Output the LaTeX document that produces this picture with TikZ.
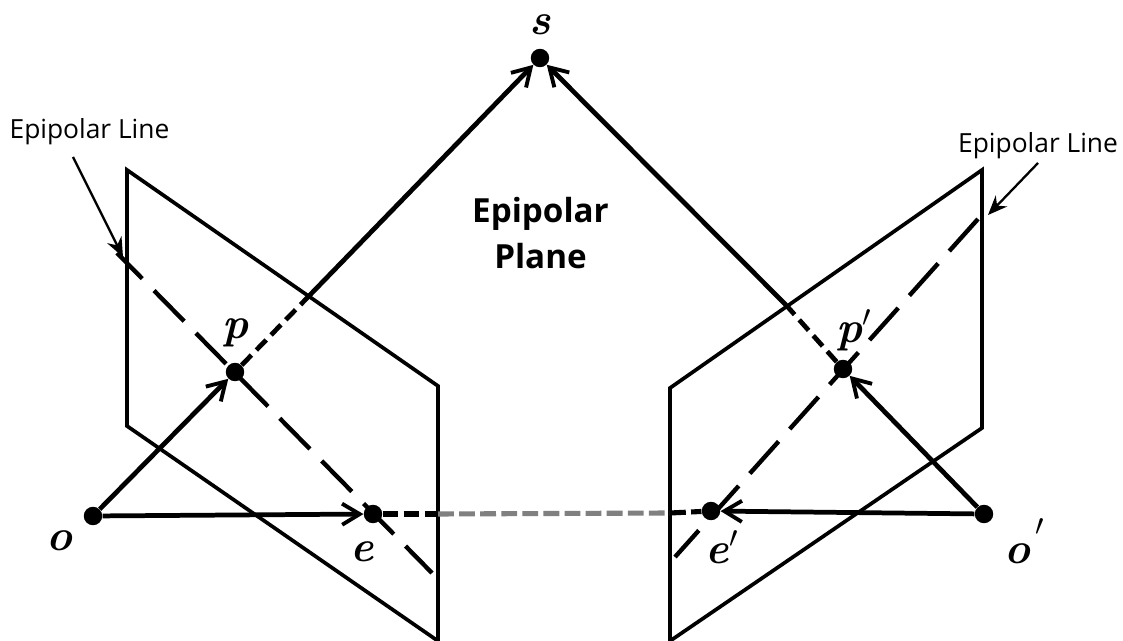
\documentclass[tikz,border=0pt]{standalone}
\usepackage{fontspec}
\setsansfont{Open Sans}
\usetikzlibrary{
arrows.meta,
positioning,
calc
}
\definecolor{graydash}{RGB}{128,128,128}

\begin{document}
\begin{tikzpicture}[
  x=2cm, y=2cm,
  >={Straight Barb[length=10pt, width=12pt, line width=2.2pt]},
  dot/.style={circle, fill=black, inner sep=0pt, minimum size=10.5pt},
  planeline/.style={line width=2.1pt, line join=miter},
  ray/.style={line width=2.7pt},
  arrow/.style={->, ray},
  raydash/.style={line width=2.7pt, dash pattern=on 8pt off 4pt},
  basedash/.style={line width=2.9pt, dash pattern=on 9pt off 3pt},
  epiline/.style={line width=2.5pt, dash pattern=on 24.5pt off 9.5pt},
  leader/.style={-{Stealth[length=11pt, width=9pt]}, line width=1.3pt},
  mathlabel/.style={font=\fontsize{25}{27}\selectfont\bfseries\itshape, inner sep=0pt},
  tag/.style={font=\fontsize{15}{17}\sffamily, inner sep=0pt},
  plane/.style={font=\fontsize{18.9}{26}\bfseries\sffamily\selectfont, align=center, inner sep=0pt}
]
\useasboundingbox (0,0) rectangle (11.23,6.41);

%% Image planes
\draw[planeline] (1.27,4.71) -- (1.27,2.15) -- (4.38,0.0) -- (4.38,2.55) -- cycle;
\draw[planeline] (9.82,4.71) -- (9.82,2.13) -- (6.70,0.0) -- (6.70,2.53) -- cycle;

%% Points
\node[dot] (s) at (5.40,5.83) {};
\node[dot] (p) at (2.35,2.69) {};
\node[dot] (o) at (0.93,1.25) {};
\node[dot] (e) at (3.73,1.27) {};
\node[dot] (pp) at (8.43,2.72) {};
\node[dot] (oo) at (9.84,1.27) {};
\node[dot] (ee) at (7.11,1.30) {};

%% Free ends
\coordinate (crossl) at (3.08,3.44);
\coordinate (crossr) at (7.86,3.36);
\coordinate (edgel) at (4.38,1.27);
\coordinate (edger) at (6.70,1.28);
\coordinate (epilA) at (1.17,3.88);
\coordinate (epilB) at (4.32,0.68);
\coordinate (epirA) at (9.78,4.22);
\coordinate (epirB) at (6.75,0.84);
\coordinate (tipl) at (1.23,3.84);
\coordinate (tipr) at (9.88,4.26);
\coordinate (footl) at (0.73,4.84);
\coordinate (footr) at (10.38,4.78);

%% Epipolar lines
\draw[epiline, dash phase=4pt] (epilA) -- (epilB);
\draw[epiline] (epirA) -- (epirB);

%% Rays
\draw[arrow] (o) -- (p);
\draw[raydash] (p) -- (crossl);
\draw[arrow] (crossl) -- (s);
\draw[arrow] (oo) -- (pp);
\draw[raydash] (pp) -- (crossr);
\draw[arrow] (crossr) -- (s);
\draw[arrow] (o) -- (e);
\draw[arrow] (oo) -- (ee);

%% Baseline
\draw[basedash] (e) -- (edgel);
\draw[basedash, graydash] (edgel) -- (edger);
\draw[basedash] (edger) -- (ee);

%% Labels
\node[mathlabel] (slabel) at (5.40,6.16) {s};
\node[mathlabel] (plabel) at (2.35,3.08) {p};
\node[mathlabel] (olabel) at (0.59,1.00) {o};
\node[mathlabel] (elabel) at (3.62,0.89) {e};
\node[mathlabel] (pplabel) at (8.54,3.11) {p$'$};
\node[mathlabel] (eelabel) at (7.22,0.94) {e$'$};
\node[mathlabel, anchor=west] (oolabel) at (10.04,1.00) {o\kern3pt\raisebox{7pt}{$'$}};

\node[tag] (tagl) at (0.895,5.09) {Epipolar Line};
\node[tag] (tagr) at (10.38,4.95) {Epipolar Line};
\node[plane] (planetext) at (5.405,4.08) {Epipolar\\Plane};

%% Leaders
\draw[leader] (footl) -- (tipl);
\draw[leader] (footr) -- (tipr);

\end{tikzpicture}
\end{document}
